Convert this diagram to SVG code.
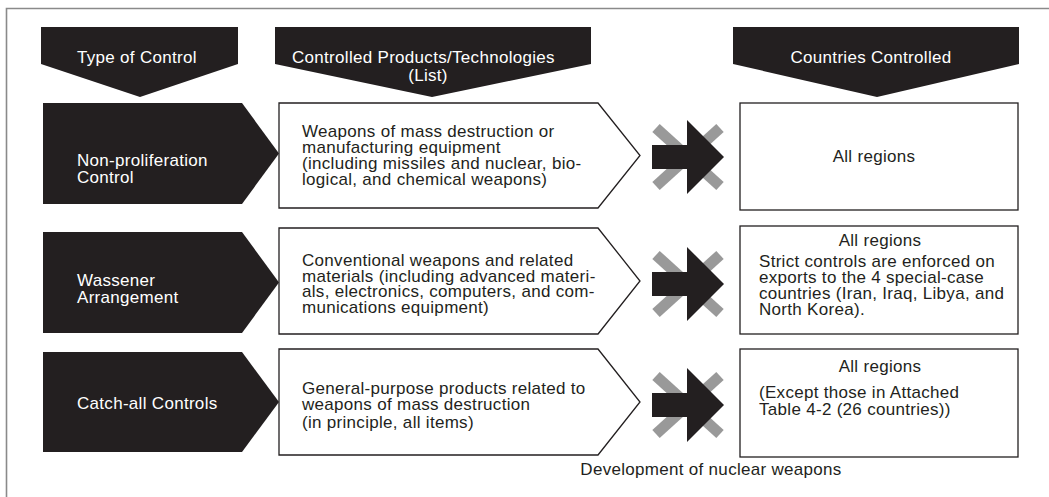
<svg xmlns="http://www.w3.org/2000/svg" width="1049" height="497" viewBox="0 0 1049 497">
<style>
text{font-family:"Liberation Sans",Arial,sans-serif;font-size:17px;letter-spacing:0.3px}
.w{fill:#ffffff}
.k{fill:#231f20}
.blk{fill:#231f20}
.box{fill:#ffffff;stroke:#231f20;stroke-width:1.3}
.frame{stroke:#8a8a8a;stroke-width:1.6;fill:none}
.x{stroke:#999999;stroke-width:11;stroke-linecap:butt}
.mid{text-anchor:middle}
</style>
<defs>
<g id="cross">
<line class="x" x1="-32" y1="-29" x2="32" y2="29"/>
<line class="x" x1="-32" y1="29" x2="32" y2="-29"/>
<polygon class="blk" points="-36,-12 -1,-12 -1,-37 36,0 -1,37 -1,12 -36,12"/>
</g>
</defs>
<rect width="1049" height="497" fill="#ffffff"/>
<path class="frame" d="M6.5,497 L6.5,8.5 L1049,8.5"/>

<g id="hdr-type">
<polygon class="blk" points="41,27 238,27 238,64 140,97 41,64"/>
<text class="w" x="77" y="63">Type of Control</text>
</g>
<g id="hdr-products">
<polygon class="blk" points="275,27 591,27 591,64 432,97 275,64"/>
<text class="w" x="292" y="63">Controlled Products/Technologies</text>
<text class="w mid" x="428" y="81">(List)</text>
</g>
<g id="hdr-countries">
<polygon class="blk" points="733,27 1019,27 1019,64 877,97 733,64"/>
<text class="w mid" x="871" y="63">Countries Controlled</text>
</g>

<g id="type-nonprolif">
<polygon class="blk" points="43,103 242,103 279,153.5 242,204 43,204"/>
<text class="w" x="77" y="166">Non-proliferation</text>
<text class="w" x="77" y="183">Control</text>
</g>
<g id="list-nonprolif">
<polygon class="box" points="279,103 598,103 640,155.5 598,208 279,208"/>
<text class="k" x="302" y="137">Weapons of mass destruction or</text>
<text class="k" x="302" y="153">manufacturing equipment</text>
<text class="k" x="302" y="169">(including missiles and nuclear, bio-</text>
<text class="k" x="302" y="185">logical, and chemical weapons)</text>
</g>
<g id="countries-nonprolif">
<rect class="box" x="740" y="103" width="278" height="107"/>
<text class="k mid" x="874" y="162">All regions</text>
</g>

<g id="type-wassenaar">
<polygon class="blk" points="43,232 242,232 279,282.5 242,333 43,333"/>
<text class="w" x="77" y="286">Wassener</text>
<text class="w" x="77" y="303">Arrangement</text>
</g>
<g id="list-wassenaar">
<polygon class="box" points="279,228 598,228 640,281 598,334 279,334"/>
<text class="k" x="302" y="266">Conventional weapons and related</text>
<text class="k" x="302" y="282">materials (including advanced materi-</text>
<text class="k" x="302" y="297">als, electronics, computers, and com-</text>
<text class="k" x="302" y="313">munications equipment)</text>
</g>
<g id="countries-wassenaar">
<rect class="box" x="740" y="226" width="278" height="108"/>
<text class="k mid" x="880" y="246">All regions</text>
<text class="k" x="759" y="267">Strict controls are enforced on</text>
<text class="k" x="759" y="283">exports to the 4 special-case</text>
<text class="k" x="759" y="299">countries (Iran, Iraq, Libya, and</text>
<text class="k" x="759" y="315">North Korea).</text>
</g>

<g id="type-catchall">
<polygon class="blk" points="43,352 242,352 279,402 242,452 43,452"/>
<text class="w" x="77" y="409">Catch-all Controls</text>
</g>
<g id="list-catchall">
<polygon class="box" points="279,349 598,349 640,402 598,455 279,455"/>
<text class="k" x="302" y="394">General-purpose products related to</text>
<text class="k" x="302" y="410">weapons of mass destruction</text>
<text class="k" x="302" y="428">(in principle, all items)</text>
</g>
<g id="countries-catchall">
<rect class="box" x="740" y="349" width="278" height="108"/>
<text class="k mid" x="880" y="372">All regions</text>
<text class="k" x="759" y="398">(Except those in Attached</text>
<text class="k" x="759" y="415">Table 4-2 (26 countries))</text>
</g>

<g id="connectors">
<use href="#cross" x="688" y="157"/>
<use href="#cross" x="688" y="284"/>
<use href="#cross" x="688" y="405"/>
</g>

<g id="caption">
<text class="k mid" x="711" y="475">Development of nuclear weapons</text>
</g>
</svg>
